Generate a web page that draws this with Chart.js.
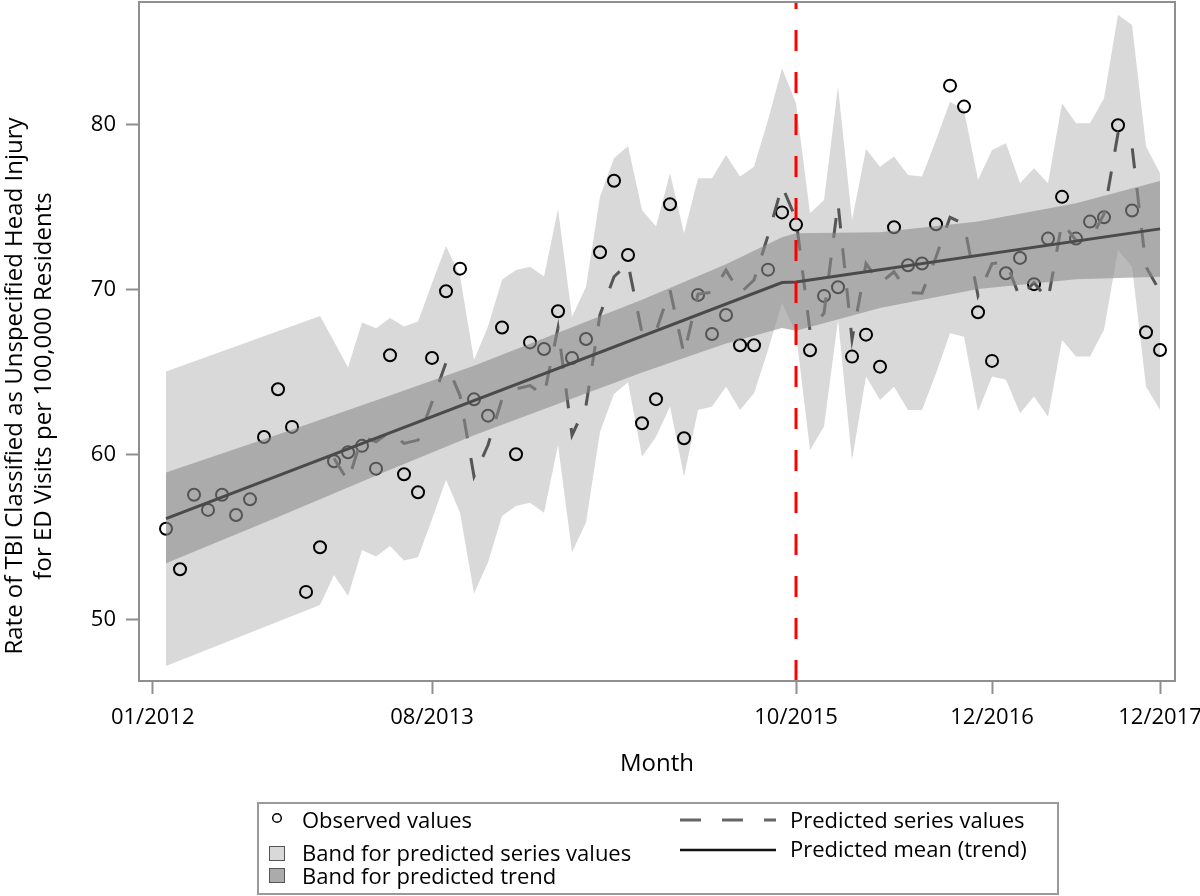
<!DOCTYPE html>
<html>
<head>
<meta charset="utf-8">
<title>TBI unspecified head injury rate</title>
<script src="https://cdn.jsdelivr.net/npm/chart.js@4.4.1/dist/chart.umd.min.js"></script>
<style>
  html, body { margin: 0; padding: 0; background: #fff; }
  #wrap { position: relative; width: 1200px; height: 896px; font-family: 'Open Sans', sans-serif; }
  #chart { position: absolute; left: 0; top: 0; }
  .legend-box { position: absolute; left: 257px; top: 802px; width: 802px; height: 93px; border: 2px solid #9a9a9a; box-sizing: border-box; }
  .lg-text { position: absolute; font-size: 22px; line-height: 22px; color: #000; white-space: nowrap; }
  .lg-swatch { position: absolute; width: 16px; height: 15px; box-sizing: border-box; border: 1.5px solid #555; }
  .lg-svg { position: absolute; overflow: visible; }
</style>
</head>
<body>
<div id="wrap">
  <canvas id="chart" width="1200" height="896"></canvas>

  <!-- legend -->
  <div class="legend-box"></div>
  <svg class="lg-svg" style="left:270px;top:811px" width="14" height="14"><circle cx="7" cy="7" r="4.3" fill="none" stroke="#000" stroke-width="1.5"/></svg>
  <div class="lg-text" style="left:302px;top:808px">Observed values</div>
  <div class="lg-swatch" style="left:269px;top:846px;background:#d9d9d9"></div>
  <div class="lg-text" style="left:302px;top:841px">Band for predicted series values</div>
  <div class="lg-swatch" style="left:269px;top:868px;background:#ababab"></div>
  <div class="lg-text" style="left:302px;top:864px">Band for predicted trend</div>
  <svg class="lg-svg" style="left:680px;top:818px" width="96" height="4"><line x1="0" y1="2" x2="96" y2="2" stroke="#666" stroke-width="3" stroke-dasharray="21 21"/></svg>
  <div class="lg-text" style="left:790px;top:808px">Predicted series values</div>
  <svg class="lg-svg" style="left:680px;top:848px" width="96" height="4"><line x1="0" y1="2" x2="96" y2="2" stroke="#111" stroke-width="2.5"/></svg>
  <div class="lg-text" style="left:790px;top:837px">Predicted mean (trend)</div>
</div>

<script>
// month index: 0 = 01/2012 ... 71 = 12/2017

// observed monthly rates
const observed = [
  55.53, 53.07, 57.59, 56.67, 57.59, 56.36, 57.31, 61.09, 63.98, 61.70, 51.70, 54.41,
  59.62, 60.16, 60.55, 59.17, 66.04, 58.83, 57.74, 65.88, 69.92, 71.29, 63.37, 62.38,
  67.72, 60.04, 66.82, 66.42, 68.71, 65.88, 67.03, 72.28, 76.62, 72.12, 61.92, 63.38,
  75.19, 61.01, 69.70, 67.33, 68.48, 66.65, 66.65, 71.23, 74.70, 73.96, 66.34, 69.64,
  70.16, 65.96, 67.29, 65.35, 73.80, 71.50, 71.60, 73.98, 82.38, 81.11, 68.65, 65.70,
  71.01, 71.94, 70.35, 73.11, 75.64, 73.11, 74.14, 74.40, 79.98, 74.81, 67.44, 66.36
]

// predicted series values (dashed), shown from 01/2013
const predicted = [
  null, null, null, null, null, null, null, null, null, null, null, null,
  59.8, 58.4, 61.1, 60.8, 61.4, 60.7, 60.9, 63.2, 65.6, 63.6, 58.7, 60.6,
  63.4, 64.0, 64.2, 63.6, 67.7, 61.2, 63.0, 68.5, 70.8, 71.6, 67.4, 67.5,
  70.0, 66.1, 69.75, 69.85, 71.2, 69.8, 70.6, 73.3, 76.3, 74.3, 67.5, 68.6,
  75.25, 67.0, 71.6, 70.4, 71.1, 69.85, 69.8, 72.0, 74.4, 74.0, 69.65, 71.6,
  71.7, 69.5, 70.45, 69.4, 74.1, 73.0, 73.0, 74.6, 79.5, 78.7, 71.4, 69.9
]

// band for predicted series values (light grey)
const seriesUpper = [
  65.05, null, null, null, null, null, null, null, null, null, null, 68.42,
  66.87, 65.30, 68.02, 67.68, 68.30, 67.78, 68.08, 70.40, 72.67, 70.81, 65.76, 67.78,
  70.61, 71.21, 71.41, 70.81, 74.89, 68.38, 70.20, 75.66, 77.98, 78.73, 74.85, 73.84,
  77.07, 73.43, 76.77, 76.77, 78.18, 76.87, 77.47, 80.30, 83.43, 81.31, 74.65, 75.45,
  82.32, 74.24, 78.54, 77.47, 78.08, 76.97, 76.87, 79.09, 81.41, 80.91, 76.67, 78.48,
  78.89, 76.46, 77.37, 76.46, 81.31, 80.10, 80.10, 81.62, 86.67, 86.06, 78.69, 77.07
]
const seriesLower = [
  47.21, null, null, null, null, null, null, null, null, null, null, 50.91,
  52.73, 51.45, 54.24, 53.84, 54.48, 53.60, 53.80, 56.10, 58.50, 56.50, 51.60, 53.50,
  56.30, 56.90, 57.10, 56.50, 60.60, 54.10, 55.90, 61.40, 63.70, 64.40, 59.90, 61.11,
  62.93, 58.69, 62.73, 62.93, 64.14, 62.73, 63.74, 66.36, 69.23, 67.37, 60.30, 61.72,
  68.18, 59.70, 64.75, 63.33, 64.14, 62.73, 62.73, 64.95, 67.37, 67.17, 62.63, 64.75,
  64.55, 62.53, 63.54, 62.32, 66.97, 65.96, 65.96, 67.58, 72.42, 71.41, 64.14, 62.73
]

// predicted mean (trend) and its band
const trendMonths = [0, 44, 45, 71]
const trendValues = [56.14, 70.45, 70.48, 73.70]
const trendBandMonths = [0, 8, 16, 22, 34, 40, 44, 45, 51, 58, 65, 71]
const trendUpper = [58.93, 61.24, 63.60, 65.40, 69.40, 71.55, 73.20, 73.43, 73.50, 74.15, 75.25, 76.60]
const trendLower = [53.43, 56.24, 59.10, 61.20, 65.00, 66.75, 67.70, 67.53, 68.90, 70.05, 70.65, 70.80]

// axes
const tickMonths = [-0.95, 19, 45, 59, 71]
const tickLabels = ["01/2012", "08/2013", "10/2015", "12/2016", "12/2017"]
const yTicks = [50, 60, 70, 80]
const interventionMonth = 45
const yTitleLines = ["Rate of TBI Classified as Unspecified Head Injury", "for ED Visits per 100,000 Residents"]

function toPoints(values, months) {
  return values
    .map((v, i) => ({ x: months ? months[i] : i, y: v }))
    .filter((p) => p.y !== null)
}

// red intervention line + frame around plot area
const framePlugin = {
  id: "frame",
  afterDatasetsDraw(chart) {
    const { ctx, chartArea: a, scales } = chart
    const px = scales.x.getPixelForValue(interventionMonth)
    ctx.save()
    ctx.strokeStyle = "#ff0000"
    ctx.lineWidth = 3
    ctx.setLineDash([21, 21])
    ctx.beginPath()
    ctx.moveTo(px, a.bottom)
    ctx.lineTo(px, a.top)
    ctx.stroke()
    ctx.setLineDash([])
    ctx.strokeStyle = "#8f8f8f"
    ctx.lineWidth = 2
    ctx.strokeRect(a.left, a.top, a.right - a.left, a.bottom - a.top)
    ctx.restore()
  },
}

// two-line rotated y title
const yTitlePlugin = {
  id: "yTitle",
  afterDraw(chart) {
    const ctx = chart.ctx
    ctx.save()
    ctx.font = "24px 'Open Sans', sans-serif"
    ctx.fillStyle = "#000"
    ctx.textAlign = "center"
    ctx.textBaseline = "middle"
    yTitleLines.forEach((line, k) => {
      ctx.save()
      ctx.translate(15 + k * 29, 386)
      ctx.rotate(-Math.PI / 2)
      ctx.fillText(line, 0, 0)
      ctx.restore()
    })
    ctx.restore()
  },
}

Chart.defaults.font.family = "'Open Sans', sans-serif"
Chart.defaults.color = "#000"

const noLine = { borderColor: "transparent", borderWidth: 0, pointRadius: 0 }

new Chart(document.getElementById("chart"), {
  type: "line",
  data: {
    datasets: [
      { ...noLine, data: toPoints(seriesLower), fill: false, order: 10 },
      { ...noLine, data: toPoints(seriesUpper), fill: "-1", backgroundColor: "#d9d9d9", order: 9 },
      {
        data: toPoints(observed),
        showLine: false,
        pointRadius: 6,
        pointBorderWidth: 2,
        pointBorderColor: "#000",
        pointBackgroundColor: "transparent",
        order: 8,
      },
      {
        data: toPoints(predicted),
        borderColor: "#555",
        borderWidth: 3,
        borderDash: [20, 20],
        pointRadius: 0,
        fill: false,
        order: 7,
      },
      { ...noLine, data: toPoints(trendLower, trendBandMonths), fill: false, order: 6 },
      {
        ...noLine,
        data: toPoints(trendUpper, trendBandMonths),
        fill: "-1",
        backgroundColor: "rgba(140, 140, 140, 0.6)",
        order: 5,
      },
      {
        data: toPoints(trendValues, trendMonths),
        borderColor: "#4a4a4a",
        borderWidth: 3,
        pointRadius: 0,
        fill: false,
        order: 1,
      },
    ],
  },
  options: {
    responsive: false,
    animation: false,
    events: [],
    layout: { autoPadding: false, padding: { top: 2, right: 25, bottom: 105, left: 0 } },
    plugins: { legend: { display: false }, tooltip: { enabled: false } },
    scales: {
      x: {
        type: "linear",
        min: -1.93,
        max: 72.07,
        afterBuildTicks: (s) => {
          s.ticks = tickMonths.map((v) => ({ value: v }))
        },
        afterFit: (s) => {
          s.height = 110
          s.paddingLeft = 0
          s.paddingRight = 0
        },
        ticks: {
          autoSkip: false,
          maxRotation: 0,
          padding: 11,
          font: { size: 22 },
          callback: (v) => tickLabels[tickMonths.indexOf(v)],
        },
        grid: { drawOnChartArea: false, tickLength: 13, tickWidth: 2, tickColor: "#8f8f8f" },
        border: { color: "#8f8f8f", width: 2 },
        title: { display: true, text: "Month", font: { size: 24 }, padding: { top: 0, bottom: 12 } },
      },
      y: {
        min: 46.3,
        max: 87.45,
        afterBuildTicks: (s) => {
          s.ticks = yTicks.map((v) => ({ value: v }))
        },
        afterFit: (s) => {
          s.width = 139
          s.paddingTop = 0
          s.paddingBottom = 0
        },
        ticks: { padding: 10, font: { size: 22 } },
        grid: { drawOnChartArea: false, tickLength: 13, tickWidth: 2, tickColor: "#8f8f8f" },
        border: { color: "#8f8f8f", width: 2 },
      },
    },
  },
  plugins: [framePlugin, yTitlePlugin],
})
</script>
</body>
</html>
